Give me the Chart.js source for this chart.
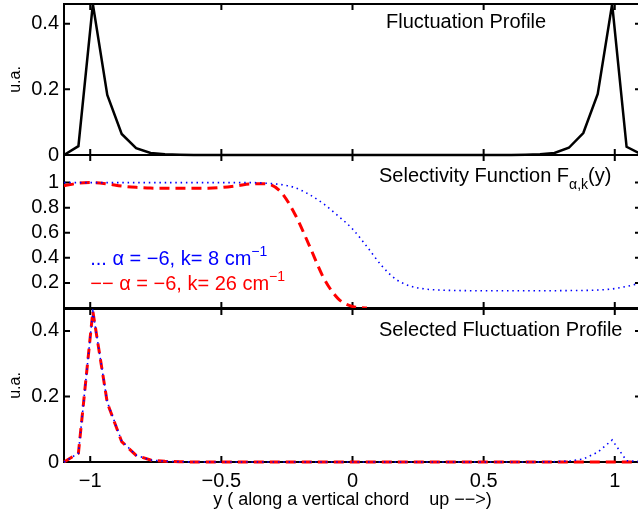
<!DOCTYPE html>
<html><head><meta charset="utf-8">
<script src="https://cdn.jsdelivr.net/npm/chart.js@4.4.1/dist/chart.umd.min.js"></script>
<style>
html,body{margin:0;padding:0;background:#fff;overflow:hidden;}
#wrap{position:relative;width:638px;height:516px;overflow:hidden;background:#fff;}
canvas{position:absolute;left:0;}
</style></head><body>
<div id="wrap">
<canvas id="c1" width="660" height="170" style="top:0px"></canvas>
<canvas id="c2" width="660" height="175" style="top:145px"></canvas>
<canvas id="c3" width="660" height="218" style="top:298px"></canvas>
</div>
<script>
// ---- data ----
const yPos = [-1.1,-1.045,-0.99,-0.935,-0.88,-0.825,-0.77,-0.715,-0.66,-0.605,-0.55,-0.495,-0.44,-0.385,-0.33,-0.275,-0.22,-0.165,-0.11,-0.055,0,0.055,0.11,0.165,0.22,0.275,0.33,0.385,0.44,0.495,0.55,0.605,0.66,0.715,0.77,0.825,0.88,0.935,0.99,1.045,1.1];
const fluct = [0,0.027,0.46,0.183,0.064,0.021,0.006,0.002,0.001,0,0,0,0,0,0,0,0,0,0,0,0,0,0,0,0,0,0,0,0,0,0,0,0.001,0.002,0.006,0.022,0.067,0.186,0.46,0.025,0.003];
const selK8 = [1,1,1,1,1,1,1,1,1,1,1,1,1,1,0.995,0.985,0.96,0.905,0.83,0.735,0.63,0.49,0.34,0.23,0.175,0.152,0.143,0.14,0.138,0.137,0.137,0.137,0.137,0.137,0.138,0.139,0.14,0.143,0.152,0.172,0.2];
const selK26 = [0.975,0.995,1,0.99,0.972,0.962,0.956,0.955,0.954,0.954,0.955,0.962,0.975,0.99,0.99,0.93,0.75,0.5,0.24,0.075,0.012,0,null,null,null,null,null,null,null,null,null,null,null,null,null,null,null,null,null,null,null];
const selProfK8 = [0,0.027,0.46,0.183,0.064,0.021,0.006,0.002,0.001,0,0,0,0,0,0,0,0,0,0,0,0,0,0,0,0,0,0,0,0,0,0,0,0.0001,0.0003,0.001,0.003,0.009,0.03,0.067,0.004,0.001];
const selProfK26 = [0,0.027,0.46,0.181,0.062,0.02,0.006,0.002,0.001,0,0,0,0,0,0,0,0,0,0,0,0,0,0,0,0,0,0,0,0,0,0,0,0,0,0,0,0,0,0,0,0];
const xTicks = [-1,-0.5,0,0.5,1];
const topTicks = [0,0.2,0.4];
const midTicks = [0.2,0.4,0.6,0.8,1];
const botTicks = [0,0.2,0.4];

const FONT = "'Liberation Sans', Arial, Helvetica, sans-serif";
const BLUE = 'rgb(0,0,255)', RED = 'rgb(255,0,0)';
function fmt(v){ return (v < 0 ? '\u2212' : '') + String(Math.abs(Math.round(v*1000)/1000)); }
function pts(arr){ return yPos.map((p,i)=>({x:p, y:arr[i]})); }

const framePlugin = {
  id:'frame',
  beforeDatasetsDraw(chart){
    const {ctx, chartArea:{left,right,top,bottom}} = chart;
    const xs = chart.scales.x, ys = chart.scales.y;
    ctx.save();
    ctx.strokeStyle = '#000'; ctx.lineWidth = 2;
    ctx.strokeRect(left, top, right-left, bottom-top);
    ctx.beginPath();
    xTicks.forEach(v=>{ const p = xs.getPixelForValue(v);
      ctx.moveTo(p,bottom); ctx.lineTo(p,bottom-6); ctx.moveTo(p,top); ctx.lineTo(p,top+6); });
    ys.ticks.forEach(t=>{ const p = ys.getPixelForValue(t.value);
      ctx.moveTo(left,p); ctx.lineTo(left+6,p); ctx.moveTo(right,p); ctx.lineTo(right-6,p); });
    ctx.stroke();
    ctx.restore();
  }
};

function drawRich(ctx, x, y, parts, color){
  ctx.fillStyle = color; ctx.textAlign = 'left'; ctx.textBaseline = 'alphabetic';
  parts.forEach(p=>{ ctx.font = p.size + 'px ' + FONT; ctx.fillText(p.t, x, y + (p.dy||0)); x += ctx.measureText(p.t).width; });
}
function textPlugin(fn){ return { id:'txt', afterDraw(chart){ const c = chart.ctx; c.save(); fn(chart, c); c.restore(); } }; }

function yScale(min, max, ticksArr, title){
  return {
    type:'linear', position:'left', min:min, max:max,
    afterBuildTicks:s=>{ s.ticks = ticksArr.map(v=>({value:v})); },
    afterFit:s=>{ s.width = 64; s.paddingTop = 0; s.paddingBottom = 0; },
    ticks:{ autoSkip:false, padding:5, color:'#000', font:{family:FONT, size:20}, callback:v=>fmt(v) },
    grid:{ display:false, drawTicks:false }, border:{ display:false },
    title:{ display:!!title, text:title||'', color:'#000', font:{family:FONT, size:16}, padding:{top:6, bottom:0} }
  };
}
function xScale(show){
  return {
    type:'linear', position:'bottom', min:-1.1, max:1.1, display:show,
    afterBuildTicks:s=>{ s.ticks = xTicks.map(v=>({value:v})); },
    afterFit:s=>{ if(show){ s.height = 54; } s.paddingLeft = 0; s.paddingRight = 0; },
    ticks:{ autoSkip:false, maxRotation:0, padding:7, color:'#000', font:{family:FONT, size:20}, callback:v=>fmt(v) },
    grid:{ display:false, drawTicks:false }, border:{ display:false },
    title:{ display:show, text:'y ( along a vertical chord    up \u2212\u2212>)', color:'#000', font:{family:FONT, size:18}, padding:{top:0, bottom:5} }
  };
}
function baseOpts(pad, ys, xshow){
  return {
    responsive:false, animation:false, devicePixelRatio:1, events:[],
    layout:{ padding:pad },
    plugins:{ legend:{display:false}, tooltip:{enabled:false} },
    elements:{ point:{ radius:0 } },
    scales:{ x:xScale(xshow), y:ys }
  };
}

// ---- Panel 1 : Fluctuation Profile ----
new Chart(document.getElementById('c1'), {
  type:'line',
  data:{ datasets:[{ data:pts(fluct), borderColor:'#000', borderWidth:2.5, tension:0, clip:{left:2,right:2,top:0,bottom:3} }] },
  options: baseOpts({top:4,bottom:15,left:0,right:19}, yScale(0,0.46,topTicks,'u.a.'), false),
  plugins:[framePlugin, textPlugin((ch,c)=>{
    const x = ch.scales.x.getPixelForValue(0.128);
    drawRich(c, x, ch.chartArea.top + 24, [{t:'Fluctuation Profile', size:20}], '#000');
  })]
});

// ---- Panel 2 : Selectivity Function ----
new Chart(document.getElementById('c2'), {
  type:'line',
  data:{ datasets:[
    { data:pts(selK8), borderColor:BLUE, borderWidth:1.6, borderDash:[1.5,3.8], cubicInterpolationMode:'monotone', clip:{left:2,right:2,top:0,bottom:0} },
    { data:pts(selK26), borderColor:RED, borderWidth:3, borderDash:[10,6], cubicInterpolationMode:'monotone', clip:{left:2,right:2,top:0,bottom:0} }
  ]},
  options: baseOpts({top:10,bottom:12,left:0,right:19}, yScale(0,1.22,midTicks,''), false),
  plugins:[framePlugin, textPlugin((ch,c)=>{
    const xs = ch.scales.x, ys = ch.scales.y;
    drawRich(c, xs.getPixelForValue(0.101), ch.chartArea.top + 27,
      [{t:'Selectivity Function F', size:20},{t:'\u03b1,k', size:14, dy:7},{t:'(y)', size:20}], '#000');
    drawRich(c, xs.getPixelForValue(-1.0), ys.getPixelForValue(0.343),
      [{t:'... \u03b1 = \u22126, k= 8 cm', size:20},{t:'\u22121', size:14, dy:-9}], BLUE);
    drawRich(c, xs.getPixelForValue(-1.0), ys.getPixelForValue(0.144),
      [{t:'\u2212\u2212 \u03b1 = \u22126, k= 26 cm', size:20},{t:'\u22121', size:14, dy:-9}], RED);
  })]
});

// ---- Panel 3 : Selected Fluctuation Profile ----
new Chart(document.getElementById('c3'), {
  type:'line',
  data:{ datasets:[
    { data:pts(selProfK8), borderColor:BLUE, borderWidth:1.6, borderDash:[1.5,3.8], tension:0, clip:{left:2,right:2,top:0,bottom:3} },
    { data:pts(selProfK26), borderColor:RED, borderWidth:3, borderDash:[10,6], tension:0, clip:{left:2,right:2,top:0,bottom:3} }
  ]},
  options: baseOpts({top:11,bottom:0,left:0,right:19}, yScale(0,0.467,botTicks,'u.a.'), true),
  plugins:[framePlugin, textPlugin((ch,c)=>{
    drawRich(c, ch.scales.x.getPixelForValue(0.101), ch.chartArea.top + 27,
      [{t:'Selected Fluctuation Profile', size:20}], '#000');
  })]
});
</script>
</body></html>
